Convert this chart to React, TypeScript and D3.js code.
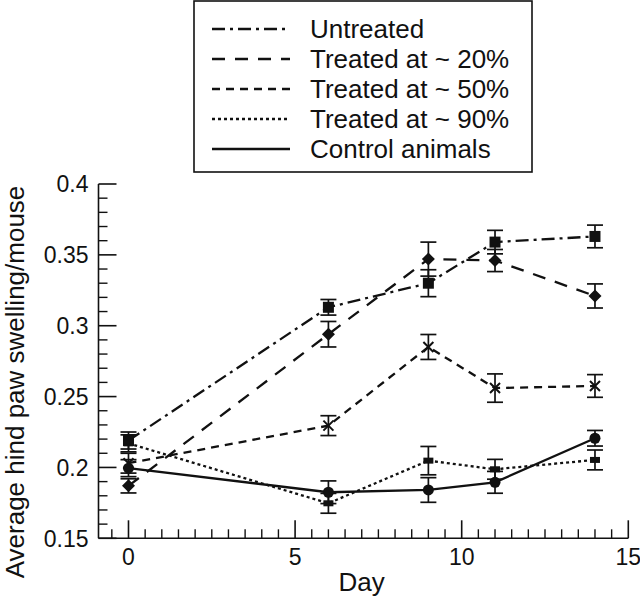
import React from "react";
import * as d3 from "d3";

const days = [0, 6, 9, 11, 14];
const seriesNames = ["Untreated", "Treated at ~ 20%", "Treated at ~ 50%", "Treated at ~ 90%", "Control animals"];
const untreated = [0.219, 0.313, 0.330, 0.359, 0.363];
const untreatedErr = [0.006, 0.0055, 0.0095, 0.0083, 0.008];
const treated20 = [0.187, 0.294, 0.347, 0.346, 0.321];
const treated20Err = [0.005, 0.009, 0.012, 0.0078, 0.0085];
const treated50 = [0.203, 0.2295, 0.285, 0.256, 0.2575];
const treated50Err = [0.007, 0.007, 0.0088, 0.01, 0.008];
const treated90 = [0.217, 0.1747, 0.2048, 0.1987, 0.2053];
const treated90Err = [0.006, 0.007, 0.01, 0.007, 0.007];
const control = [0.1995, 0.1825, 0.1841, 0.1895, 0.2206];
const controlErr = [0.006, 0.008, 0.0087, 0.0077, 0.0055];

const xTickLabels = [0, 5, 10, 15];
const yTickLabels = [0.15, 0.2, 0.25, 0.3, 0.35, 0.4];

const W = 640;
const H = 603;
const INK = "#111";
const FONT = "'Liberation Sans', Arial, Helvetica, sans-serif";

type Marker = "square" | "diamond" | "cross" | "bar" | "circle";

const series = [
  { name: seriesNames[0], values: untreated, err: untreatedErr, dash: "13,5,3,5", marker: "square" as Marker },
  { name: seriesNames[1], values: treated20, err: treated20Err, dash: "13,10", marker: "diamond" as Marker },
  { name: seriesNames[2], values: treated50, err: treated50Err, dash: "8,6", marker: "cross" as Marker },
  { name: seriesNames[3], values: treated90, err: treated90Err, dash: "3,3", marker: "bar" as Marker },
  { name: seriesNames[4], values: control, err: controlErr, dash: "none", marker: "circle" as Marker },
];

function MarkerShape({ type, cx, cy }: { type: Marker; cx: number; cy: number }) {
  switch (type) {
    case "square":
      return <rect x={cx - 5.5} y={cy - 5.5} width={11} height={11} fill={INK} />;
    case "diamond":
      return <path d={`M${cx},${cy - 6.5}L${cx + 6.5},${cy}L${cx},${cy + 6.5}L${cx - 6.5},${cy}Z`} fill={INK} />;
    case "cross":
      return (
        <path d={`M${cx - 5},${cy - 5}L${cx + 5},${cy + 5}M${cx + 5},${cy - 5}L${cx - 5},${cy + 5}`} stroke={INK} strokeWidth={2} />
      );
    case "bar":
      return <rect x={cx - 5} y={cy - 3} width={10} height={6} fill={INK} />;
    case "circle":
      return <circle cx={cx} cy={cy} r={5.5} fill={INK} />;
  }
}

export default function App() {
  const x = d3.scaleLinear().domain([-0.9, 15]).range([98.5, 628.3]);
  const y = d3.scaleLinear().domain([0.15, 0.4]).range([538.3, 184]);

  const line = d3
    .line<number>()
    .x((_, i) => x(days[i]))
    .y((v) => y(v));

  const xMinor = d3.range(-1, 31).map((k) => k * 0.5).filter((v) => v > -0.9 && v < 15 && v % 5 !== 0);
  const yMinor = d3.range(15, 41).map((k) => k / 100).filter((v) => Math.round(v * 100) % 5 !== 0);

  const x0 = x.range()[0];
  const y0 = y.range()[0];

  return (
    <svg
      width={W}
      height={H}
      style={{ position: "absolute", left: 0, top: 0, background: "#fff" }}
      fontFamily={FONT}
    >
      <rect width={W} height={H} fill="#fff" />
      {/* axes */}
      <line x1={x0} x2={x0} y1={y(0.4)} y2={y0} stroke={INK} strokeWidth={1.6} />
      <line x1={x0} x2={x(15)} y1={y0} y2={y0} stroke={INK} strokeWidth={1.6} />
      {yTickLabels.map((v) => (
        <g key={"yt" + v}>
          <line x1={x0} x2={x0 + 18} y1={y(v)} y2={y(v)} stroke={INK} strokeWidth={1.6} />
          <text x={x0 - 10} y={y(v)} dy="0.36em" textAnchor="end" fontSize={23} fill={INK}>
            {String(v)}
          </text>
        </g>
      ))}
      {yMinor.map((v) => (
        <line key={"ym" + v} x1={x0} x2={x0 + 9} y1={y(v)} y2={y(v)} stroke={INK} strokeWidth={1.4} />
      ))}
      {xTickLabels.map((v) => (
        <g key={"xt" + v}>
          <line x1={x(v)} x2={x(v)} y1={y0} y2={y0 - 18} stroke={INK} strokeWidth={1.6} />
          <text x={x(v)} y={565} textAnchor="middle" fontSize={23} fill={INK}>
            {String(v)}
          </text>
        </g>
      ))}
      {xMinor.map((v) => (
        <line key={"xm" + v} x1={x(v)} x2={x(v)} y1={y0} y2={y0 - 9} stroke={INK} strokeWidth={1.4} />
      ))}
      <text x={x(7.0)} y={591} textAnchor="middle" fontSize={26} fill={INK}>
        Day
      </text>
      <text
        transform={`translate(24,${382}) rotate(-90)`}
        textAnchor="middle"
        fontSize={26}
        fill={INK}
      >
        Average hind paw swelling/mouse
      </text>

      {/* series lines */}
      {series.map((s) => (
        <path
          key={"l" + s.name}
          d={line(s.values) || ""}
          fill="none"
          stroke={INK}
          strokeWidth={2.3}
          strokeDasharray={s.dash}
        />
      ))}
      {/* error bars */}
      {series.map((s) =>
        s.values.map((v, i) => {
          const cx = x(days[i]);
          const top = y(v + s.err[i]);
          const bot = y(v - s.err[i]);
          return (
            <g key={"e" + s.name + i} stroke={INK} strokeWidth={1.7}>
              <line x1={cx} x2={cx} y1={top} y2={bot} />
              <line x1={cx - 8} x2={cx + 8} y1={top} y2={top} />
              <line x1={cx - 8} x2={cx + 8} y1={bot} y2={bot} />
            </g>
          );
        })
      )}
      {/* markers */}
      {series.map((s) =>
        s.values.map((v, i) => (
          <MarkerShape key={"m" + s.name + i} type={s.marker} cx={x(days[i])} cy={y(v)} />
        ))
      )}

      {/* legend */}
      <rect x={194} y={1} width={338} height={171} fill="#fff" stroke={INK} strokeWidth={1.6} />
      {series.map((s, i) => {
        const base = 38 + i * 30;
        return (
          <g key={"lg" + s.name}>
            <line
              x1={212}
              x2={290}
              y1={base - 9}
              y2={base - 9}
              stroke={INK}
              strokeWidth={2.3}
              strokeDasharray={s.dash}
            />
            <text x={310} y={base} fontSize={26} fill={INK}>
              {s.name}
            </text>
          </g>
        );
      })}
    </svg>
  );
}
